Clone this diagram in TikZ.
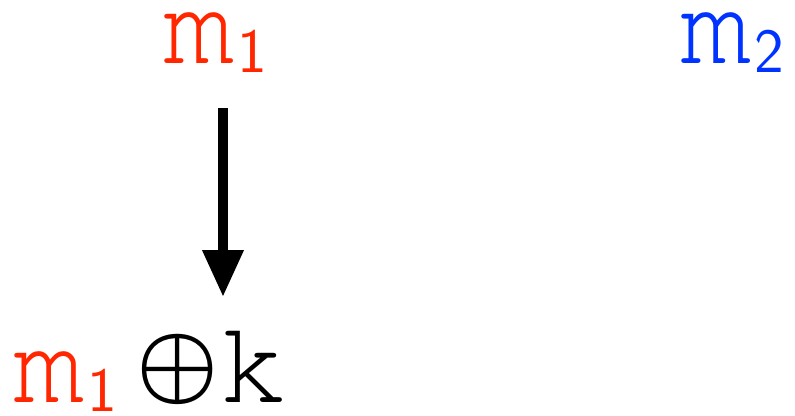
\documentclass[tikz,border=0pt]{standalone}
\usepackage{fontspec}
\usetikzlibrary{arrows.meta}
\newcommand\courf{\fontencoding{T1}\fontfamily{pcr}\selectfont}
\definecolor{mred}{RGB}{255,38,0}
\definecolor{mblue}{RGB}{0,51,255}
\newcommand\mysub[1]{\raisebox{-9.5pt}{\fontsize{63}{63}\selectfont\sffamily #1}}
\newcommand\myoplus{\raisebox{10pt}{\scalebox{9.2}{\fontsize{10}{12}\selectfont\boldmath$\oplus$}}}
\tikzset{txt/.style={inner sep=0pt, anchor=base west, font=\fontsize{118}{118}\courf}}
\begin{document}
\begin{tikzpicture}[x=1pt,y=-1pt]
\useasboundingbox (0,0) rectangle (795,415);
\node[txt, text=mred] (m1) at (163,63) {m\hspace{3pt}\mysub{1}};
\node[txt, text=mblue] (m2) at (680,63) {m\hspace{3pt}\mysub{2}};
\node[txt] (mk) at (13,402) {\textcolor{mred}{m\hspace{3pt}\mysub{1}}\hspace{20pt}\myoplus\hspace{0pt}k};
\coordinate (s) at (223,108);
\coordinate (e) at (223,297);
\draw[line width=10pt, -{Triangle[width=39pt,length=47pt]}] (s) -- (e);
\end{tikzpicture}
\end{document}
